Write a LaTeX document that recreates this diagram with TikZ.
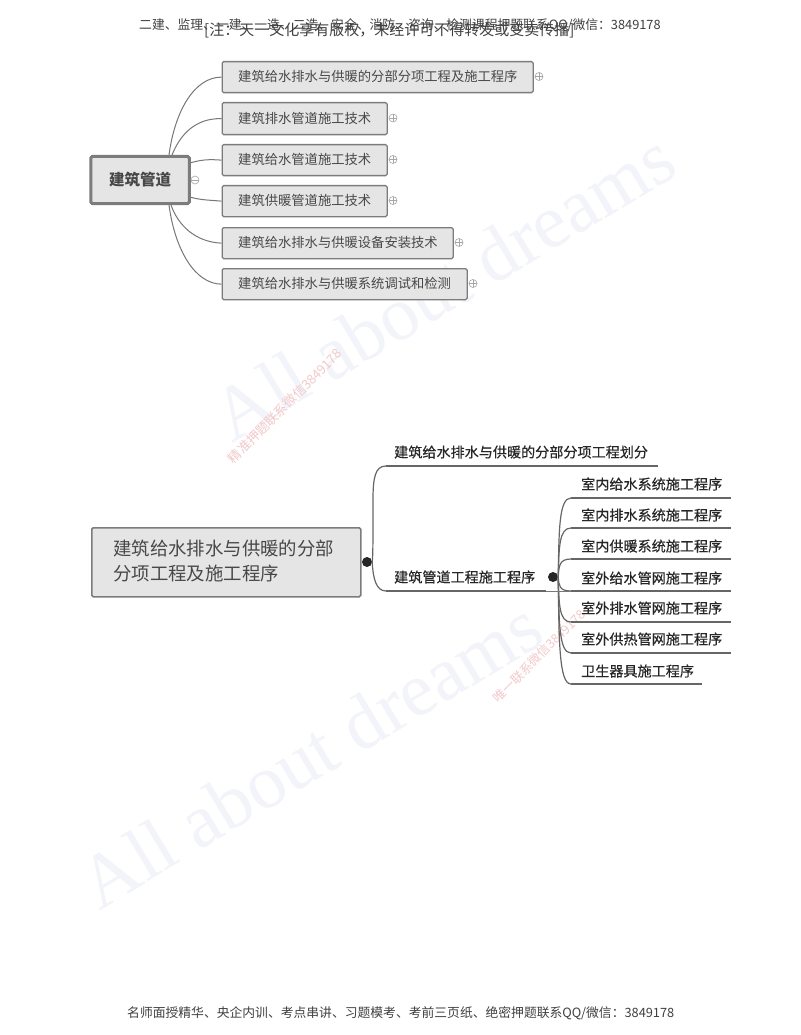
\documentclass[tikz,border=0pt]{standalone}
\usepackage{fontspec}
\setmainfont{Noto Sans CJK SC}
\newfontfamily\wmfont{Liberation Serif}
\newfontfamily\medfont[FakeBold=0.3]{Noto Sans CJK SC}
\usetikzlibrary{calc}
\definecolor{wmblue}{HTML}{F2F4FA}
\definecolor{wmpink}{HTML}{F3C9CB}
\definecolor{boxfill}{HTML}{E5E5E5}
\definecolor{boxline}{HTML}{7C7C7C}
\definecolor{linkgray}{HTML}{777777}
\definecolor{barline}{HTML}{666666}
\definecolor{txt}{HTML}{484848}
\tikzset{
  fs/.style={font=\fontsize{#1}{20}\selectfont},
  medfs/.style={font=\medfont\fontsize{#1}{20}\selectfont},
  watermark/.style={text=wmblue,font=\wmfont\fontsize{76}{90}\selectfont,rotate=31,inner sep=0},
  pinkmark/.style={text=wmpink,fs=13,rotate=45,inner sep=0},
  headline/.style={text=black!75,fs=12.8,inner sep=0,anchor=west},
  rootbox/.style={draw=boxline,line width=3pt,fill=boxfill,rounded corners=1.5pt,anchor=north west,inner sep=0,text=txt},
  topicbox/.style={draw=boxline,line width=1.3pt,fill=boxfill,rounded corners=1.5pt,inner sep=0,text=txt,fs=13.3},
  link/.style={draw=linkgray,line width=1pt},
  trunk/.style={draw=barline,line width=1.2pt},
  bar/.style={draw=barline,line width=2pt},
  leaf/.style={text=black!85,medfs=14.1,inner sep=0,anchor=west},
  branchtxt/.style={text=black!85,medfs=14.1,inner sep=0,anchor=west},
  toggle/.style={circle,draw=gray!70,line width=.6pt,minimum size=8pt,inner sep=0},
  plusmark/.style={toggle,path picture={\draw[gray!70,line width=.5pt]
     (path picture bounding box.west)--(path picture bounding box.east)
     (path picture bounding box.north)--(path picture bounding box.south);}},
  minusmark/.style={toggle,path picture={\draw[gray!70,line width=.5pt]
     (path picture bounding box.west)--(path picture bounding box.east);}},
  blackdot/.style={circle,fill=black!85,minimum size=10pt,inner sep=0},
}
\newcommand{\topic}[5]{% name, ytop, ybottom, xright, text
  \node[topicbox,minimum width={(#4-222)*1pt},minimum height={(#3-#2)*1pt},anchor=north west] (#1) at (221.5,#2) {};
  \node[text=txt,fs=13.3,inner sep=0,anchor=west] (#1t) at (238,{(#2+#3)/2}) {#5};
  \node[plusmark] (#1p) at ({#4+6},{(#2+#3)/2}) {};
}
\begin{document}
\begin{tikzpicture}[x=1pt,y=-1pt]
\useasboundingbox (0,0) rectangle (800,1035);
\fill[white] (0,0) rectangle (800,1035);
% watermarks
\node[watermark] (wm1) at (443,286) {All about dreams};
\node[watermark] (wm2) at (310,754) {All about dreams};
\node[pinkmark] (pk1) at (285,406) {精准押题联系微信3849178};
\node[pinkmark,fs=12.6] (pk2) at (539,656) {唯一联系微信3849178};
% header and footer
\node[headline] (hd1) at (139,25) {二建、监理、一建、一造、二造、安全、消防、咨询、检测课程押题联系QQ/微信：3849178};
\node[headline,fs=15] (hd2) at (204,30) {[注：天一文化享有版权，未经许可不得转发或变卖传播]};
\node[headline] (ft) at (127,1013) {名师面授精华、央企内训、考点串讲、习题模考、考前三页纸、绝密押题联系QQ/微信：3849178};
% upper map
\coordinate (r1) at (169,155);
\coordinate (r2) at (172,155);
\coordinate (r3) at (190,163);
\coordinate (r4) at (190,197);
\coordinate (r5) at (171,205);
\coordinate (r6) at (169,205);
\topic{b1}{61}{92}{533}{建筑给水排水与供暖的分部分项工程及施工程序}
\topic{b2}{102}{134}{387}{建筑排水管道施工技术}
\topic{b3}{144}{175}{387}{建筑给水管道施工技术}
\topic{b4}{185}{216}{387}{建筑供暖管道施工技术}
\topic{b5}{227}{258}{453}{建筑给水排水与供暖设备安装技术}
\topic{b6}{268}{299}{467}{建筑给水排水与供暖系统调试和检测}
\draw[link] (r1) .. controls (175,110) and (195,77) .. (b1.west);
\draw[link] (r2) .. controls (180,135) and (195,118) .. (b2.west);
\draw[link] (r3) .. controls (200,160) and (208,159) .. (b3.west);
\draw[link] (r4) .. controls (200,200) and (208,200) .. (b4.west);
\draw[link] (r5) .. controls (178,225) and (195,242) .. (b5.west);
\draw[link] (r6) .. controls (175,250) and (195,284) .. (b6.west);
\node[rootbox,minimum width=98.5pt,minimum height=47pt,font=\fontsize{15.5}{18}\selectfont\bfseries] (root) at (89.3,155) {建筑管道};
\node[minusmark] (rootm) at (195,180) {};
% lower map
\node[topicbox,line width=1.6pt,anchor=north west,minimum width=269pt,minimum height=69pt] (main) at (91,527) {};
\node[text=txt,inner sep=0,anchor=west,align=left,font=\fontsize{18.4}{25}\selectfont] (maint) at (113,561) {建筑给水排水与供暖的分部\\ 分项工程及施工程序};
\node[blackdot] (d1) at (367,562) {};
\node[branchtxt] (bt1) at (394,452) {建筑给水排水与供暖的分部分项工程划分};
\node[branchtxt] (bt2) at (394,577) {建筑管道工程施工程序};
\coordinate (u1s) at (386,466); \coordinate (u1e) at (658,466);
\coordinate (u2s) at (386,591); \coordinate (u2e) at (546,591);
\draw[trunk] (d1.east) .. controls (373,556) and (373,540) .. (373,500) .. controls (373,478) and (375,466) .. (u1s);
\draw[trunk] (d1.east) .. controls (373,578) and (376,591) .. (u2s);
\draw[bar] (u1s) -- (u1e);
\draw[bar] (u2s) -- (u2e);
\node[blackdot] (d2) at (553,577) {};
\foreach \n/\ty/\uy/\ux/\lab in {
  1/484/498/731/室内给水系统施工程序,
  2/515/528/731/室内排水系统施工程序,
  3/546/559/731/室内供暖系统施工程序,
  4/578/591/731/室外给水管网施工程序,
  5/608/622/731/室外排水管网施工程序,
  6/639/653/731/室外供热管网施工程序,
  7/671/684/702/卫生器具施工程序}{
  \node[leaf] (lf\n) at (581,\ty) {\lab};
  \coordinate (us\n) at (571,\uy);
  \coordinate (ue\n) at (\ux,\uy);
  \draw[bar] (us\n) -- (ue\n);
  \draw[trunk] (d2.east) .. controls (559,{577+(\uy-577)*.6}) and (559,\uy) .. (us\n);
}
\draw[link,line width=1pt] (u2e) -- (us4);
\end{tikzpicture}
\end{document}
